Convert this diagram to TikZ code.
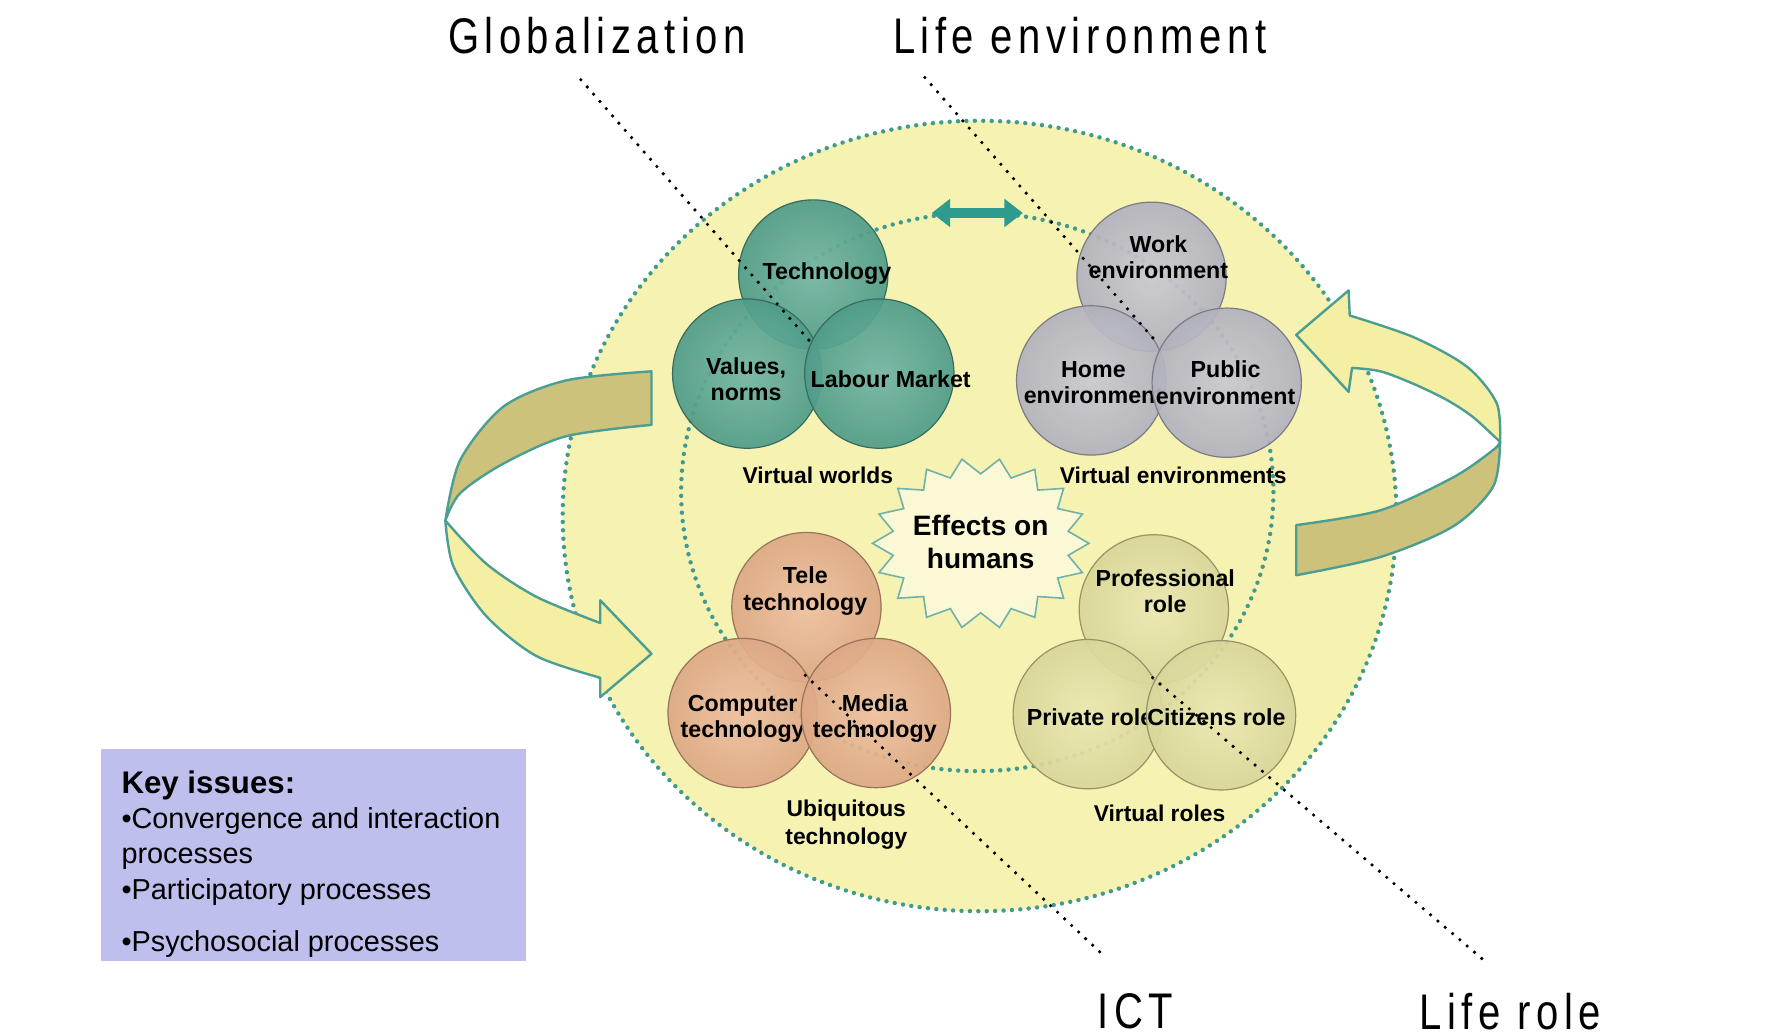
\documentclass[tikz,border=0pt]{standalone}
\usepackage{fontspec}
\setmainfont{Liberation Sans}
\newfontfamily\titlefont[FakeStretch=0.8,LetterSpace=11]{Liberation Sans}
\usetikzlibrary{calc,arrows.meta}

\definecolor{ringfill}{HTML}{F6F2B2}
\definecolor{ringdot}{HTML}{3F9A90}
\definecolor{tealball}{HTML}{55A692}
\definecolor{grayball}{HTML}{BDBDC9}
\definecolor{orangeball}{HTML}{EBB38E}
\definecolor{lemonball}{HTML}{E6E4A2}
\definecolor{palearrow}{HTML}{F4EFA2}
\definecolor{olivearrow}{HTML}{CDC27C}
\definecolor{arrowline}{HTML}{4C9E92}
\definecolor{linkteal}{HTML}{2F9A8E}
\definecolor{keyfill}{HTML}{BFBFEE}

\begin{document}
\begin{tikzpicture}[x=0.01cm, y=-0.01cm,
    ball/.style={circle, minimum size=1.31cm, inner sep=0pt, inner color=#1!82!white,
      outer color=#1!94!black, draw=#1!65!black, line width=0.3pt, fill opacity=0.93},
    btext/.style={font=\bfseries\fontsize{5.8}{6.6}\selectfont, align=center, inner sep=0pt, text opacity=1},
    grouptext/.style={font=\bfseries\fontsize{5.7}{6.8}\selectfont, align=center, inner sep=0pt},
    ttl/.style={font=\titlefont\fontsize{12.5}{14}\selectfont, inner sep=0pt},
    dimline/.style={line width=0.9pt, dash pattern=on 0pt off 2.4pt, line cap=round},
    dotring/.style={draw=ringdot, line width=1.1pt, dash pattern=on 0pt off 2.1pt, line cap=round},
    band/.style={draw=arrowline, line width=0.6pt, line join=round},
    burst/.style={draw=arrowline!80, fill=ringfill!55!white, line width=0.4pt},
  ]
    \useasboundingbox (0,0) rectangle (1568,909);
    \fill[white] (0,0) rectangle (1568,909);

      % Outer ring
      \fill[ringfill] (860,453) ellipse (366 and 347);
      \draw[dotring] (860,453) ellipse (366 and 347);

      % Inner ring
      \draw[dotring] (858,432) ellipse (260 and 245);
      \coordinate (link-l) at (818,187);
      \coordinate (link-r) at (898,187);
      \draw[linkteal, line width=2.5pt,
        {Triangle[width=6.8pt,length=4.6pt]}-{Triangle[width=6.8pt,length=4.6pt]}] (link-l) -- (link-r);

      % Left turning arrow
      \draw[band, fill=olivearrow] plot[smooth] coordinates {(572,326) (497,334) (442,357) (404,404) (391,457)}
        -- plot[smooth] coordinates {(391,457) (404,433) (442,407) (497,383) (572,373)} -- cycle;
      \draw[band, fill=palearrow] plot[smooth] coordinates {(391,457) (398,497) (427,541) (471,576) (527,595)}
        -- (527,612) -- (572,574) -- (527,527)
        -- plot[smooth] coordinates {(527,547) (471,524) (427,495) (391,457)} -- cycle;

      % Right turning arrow
      \draw[band, fill=palearrow] (1138,294) -- (1184,255)
        -- plot[smooth] coordinates {(1185,277) (1241,296) (1288,322) (1314,354) (1317,388)}
        -- plot[smooth] coordinates {(1317,388) (1293,366) (1270,351) (1241,337) (1212,326) (1187,323)}
        -- (1184,344) -- cycle;
      \draw[band, fill=olivearrow] plot[smooth] coordinates {(1317,388) (1311,427) (1276,462) (1212,489) (1138,505)}
        -- (1138,461)
        -- plot[smooth] coordinates {(1138,461) (1212,448) (1276,419) (1311,395) (1317,388)} -- cycle;

      % Virtual worlds
      \node[ball=tealball] (tech) at (714,241) {};
      \node[btext] (tech-t) at (726,240) {Technology};
      \node[ball=tealball] (values) at (656,328) {};
      \node[btext] (values-t) at (655,333) {Values,\\norms};
      \node[ball=tealball] (labour) at (772,328) {};
      \node[btext] (labour-t) at (782,333) {Labour Market};
      \node[grouptext] (worlds) at (718,417) {Virtual worlds};

      % Virtual environments
      \node[ball=grayball] (work) at (1011,243) {};
      \node[btext] (work-t) at (1017,226) {Work\\environment};
      \node[ball=grayball] (home) at (958,334) {};
      \node[btext] (home-t) at (960,336) {Home\\environment};
      \node[ball=grayball] (public) at (1077,336) {};
      \node[btext] (public-t) at (1076,336) {Public\\environment};
      \node[grouptext] (envs) at (1030,417) {Virtual environments};

      % Ubiquitous technology
      \node[ball=orangeball] (tele) at (708,533) {};
      \node[btext] (tele-t) at (707,519) {Tele\\technology};
      \node[ball=orangeball] (computer) at (652,626) {};
      \node[btext] (computer-t) at (652,631) {Computer\\technology};
      \node[ball=orangeball] (media) at (769,626) {};
      \node[btext] (media-t) at (768,631) {Media\\technology};
      \node[grouptext] (ubiq) at (743,724) {Ubiquitous\\technology};

      % Virtual roles
      \node[ball=lemonball] (prof) at (1013,535) {};
      \node[btext] (prof-t) at (1023,519) {Professional\\role};
      \node[ball=lemonball] (private) at (955,627) {};
      \node[btext] (private-t) at (957,630) {Private role};
      \node[ball=lemonball] (citizen) at (1072,628) {};
      \node[btext] (citizen-t) at (1068,630) {Citizens role};
      \node[grouptext] (roles) at (1018,714) {Virtual roles};

      % Effects star
      \filldraw[burst] plot[samples at={0,...,35}]
        ({861+(95-17*mod(\x,2))*cos(\x*10)}, {477+(75-14*mod(\x,2))*sin(\x*10)}) -- cycle;
      \node[font=\bfseries\fontsize{7}{8.2}\selectfont, align=center, inner sep=0pt] (effect) at (861,476)
        {Effects on\\humans};

      % Dimensions
      \node[ttl] (glob) at (524,31) {Globalization};
      \node[ttl] (lifeenv) at (948,31) {Life environment};
      \node[ttl] (ict) at (997,888) {ICT};
      \node[ttl] (liferole) at (1326,888) {Life role};
      \coordinate (glob-a) at (510,70);
      \coordinate (glob-b) at (714,303);
      \coordinate (lifeenv-a) at (812,68);
      \coordinate (lifeenv-b) at (1016,301);
      \coordinate (ict-a) at (707,593);
      \coordinate (ict-b) at (968,838);
      \coordinate (liferole-a) at (1012,595);
      \coordinate (liferole-b) at (1305,845);
      \draw[dimline] (glob-a) -- (glob-b);
      \draw[dimline] (lifeenv-a) -- (lifeenv-b);
      \draw[dimline] (ict-a) -- (ict-b);
      \draw[dimline] (liferole-a) -- (liferole-b);

      % Key issues
      \node[fill=keyfill, anchor=north west, minimum width=3.73cm, minimum height=1.86cm, inner sep=0pt]
        (keybox) at (88,657) {};
      \node[anchor=north west, align=left, inner sep=0pt, font=\fontsize{7.2}{8.8}\selectfont]
        (keytext) at (106,676)
        {{\bfseries\fontsize{7.8}{8.8}\selectfont Key issues:}\\
         •Convergence and interaction\\
         processes\\
         •Participatory processes\\[4.3pt]
         •Psychosocial processes};
  \end{tikzpicture}
\end{document}
